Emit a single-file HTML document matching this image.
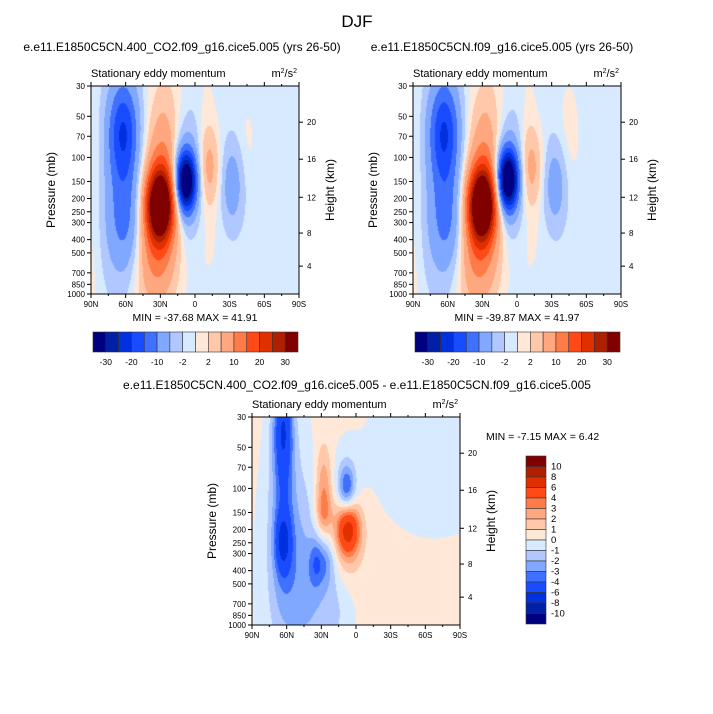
<!DOCTYPE html>
<html><head><meta charset="utf-8"><style>
body{margin:0;background:#fff;}
#wrap{position:relative;width:713px;height:714px;overflow:hidden;font-family:"Liberation Sans",sans-serif;}
canvas,svg{position:absolute;left:0;top:0;}
</style></head><body>
<div id="wrap">
<canvas id="cv" width="713" height="714"></canvas>
<svg id="sv" width="713" height="714" xmlns="http://www.w3.org/2000/svg"></svg>
</div>
<script>
// ---- data ----
const colors = ['#000080','#0020a8','#0030e0','#1a4cff','#4070ff','#80a8ff','#b0c8ff','#d8eaff','#ffe8d8','#ffc8aa','#ffa880','#ff7c48','#ff4a18','#e03000','#b02000','#800000'];
const levelsAbs = [-30,-25,-20,-15,-10,-5,-2,0,2,5,10,15,20,25,30];
const levelsDiff = [-10,-8,-6,-4,-3,-2,-1,0,1,2,3,4,6,8,10];
const absLabels = ['-30','-20','-10','-2','2','10','20','30'];
const latTicks = [90,60,30,0,-30,-60,-90];
const latLabels = ['90N','60N','30N','0','30S','60S','90S'];
const presTicks = [30,50,70,100,150,200,250,300,400,500,700,850,1000];
const heightTicks = [20,16,12,8,4];
const heightFrac = [0.174,0.352,0.535,0.707,0.866];
// blobs: [lat, pressure(mb), amplitude, sigmaLat, sigmaLnP]
const base1 = -0.9;
const blobs1 = [
 [62,65,-17,9,0.6],[60,300,-8,11,0.6],[64,160,-4,12,1.2],
 [30,220,38,8.5,0.42],[32,350,12,12,0.7],[27,100,8,10,0.6],[35,600,3,14,0.6],
 [8,150,-36,6,0.33],[8,140,-8,10,0.7],
 [-12,120,7,7,0.45],[-32,160,-7,7,0.5],
 [88,300,1.5,5,2],[25,40,2.5,12,0.8],[-10,60,1.5,6,0.8],[-10,400,1.2,10,0.7],[-45,80,1.3,6,0.6],[38,900,1.5,12,0.5]
];
const base2 = -0.9;
const blobs2 = [
 [63,65,-17,9,0.6],[60,300,-8,11,0.6],[64,160,-4,12,1.2],
 [30,220,38,8.5,0.42],[32,350,12,12,0.7],[27,100,8,10,0.6],[35,600,3,14,0.6],
 [8,145,-38,6,0.33],[8,140,-8,10,0.7],
 [-12,120,7,7,0.45],[-33,160,-7,7,0.5],
 [88,300,1.5,5,2],[25,40,2.5,12,0.8],[-10,60,1.5,6,0.8],[-10,400,1.2,10,0.7],[-45,70,1.8,7,0.7],[38,900,1.5,12,0.5]
];
const base3 = 0.3;
const blobs3 = [
 [63,35,-4.5,6,0.6],[63,250,-3.8,5,0.35],[63,120,-2.5,7,1.2],[64,250,-1.2,14,1.4],
 [28,110,3,5,0.55],[28,150,1.2,5,0.2],
 [8,100,-3.8,5,0.28],[8,100,-1.2,10,0.5],
 [7,200,5.5,7,0.3],[7,210,2,10,0.55],
 [27,340,-2.5,6,0.3],[35,350,-1.8,4,0.3],
 [-68,50,-1.3,35,0.9],[40,700,-1.4,22,0.8],[45,280,-1.3,10,1.2],[20,800,-0.8,10,0.5]
];
const panels = [
 {x0:91,y0:86,W:208,H:208,base:base1,blobs:blobs1,levels:levelsAbs,title:'e.e11.E1850C5CN.400_CO2.f09_g16.cice5.005 (yrs 26-50)',tx:182,ty:51,minmax:'MIN = -37.68  MAX =  41.91'},
 {x0:413,y0:86,W:208,H:208,base:base2,blobs:blobs2,levels:levelsAbs,title:'e.e11.E1850C5CN.f09_g16.cice5.005 (yrs 26-50)',tx:502,ty:51,minmax:'MIN = -39.87  MAX =  41.97'},
 {x0:252,y0:417,W:208,H:208,base:base3,blobs:blobs3,levels:levelsDiff,title:'e.e11.E1850C5CN.400_CO2.f09_g16.cice5.005 - e.e11.E1850C5CN.f09_g16.cice5.005',tx:357,ty:389,minmax:'MIN =  -7.15  MAX =  6.42'}
];
// ---- drawing ----
const LR = Math.log(1000/30);
function xOf(p,lat){return p.x0+(90-lat)/180*p.W;}
function yOf(p,pr){return p.y0+Math.log(pr/30)/LR*p.H;}
function field(p,lat,pr){let v=p.base;const z=Math.log(pr);for(const b of p.blobs){const a=(lat-b[0])/b[3],c=(z-Math.log(b[1]))/b[4];v+=b[2]*Math.exp(-0.5*(a*a+c*c));}return v;}
function lvl(levels,v){let i=0;while(i<levels.length&&v>=levels[i])i++;return i;}
const cv=document.getElementById('cv').getContext('2d');
const rgb=colors.map(c=>[parseInt(c.substr(1,2),16),parseInt(c.substr(3,2),16),parseInt(c.substr(5,2),16)]);
panels.forEach(p=>{
 const img=cv.createImageData(p.W,p.H);
 for(let j=0;j<p.H;j++){const pr=30*Math.exp((j+0.5)/p.H*LR);
  for(let i=0;i<p.W;i++){const lat=90-(i+0.5)/p.W*180;const c=rgb[lvl(p.levels,field(p,lat,pr))];const k=(j*p.W+i)*4;img.data[k]=c[0];img.data[k+1]=c[1];img.data[k+2]=c[2];img.data[k+3]=255;}}
 cv.putImageData(img,p.x0,p.y0);
});
const sv=document.getElementById('sv');const NS='http://www.w3.org/2000/svg';
function mk(tag,attrs,txt,name,par){const e=document.createElementNS(NS,tag);for(const k in attrs)e.setAttribute(k,attrs[k]);if(txt!=null)e.textContent=txt;
 
 
 (par||sv).appendChild(e);return e;}
function txt(x,y,s,size,anchor,name,extra){const a=Object.assign({x:x,y:y,'font-size':size,'text-anchor':anchor||'middle','font-family':'Liberation Sans, sans-serif',fill:'#000'},extra||{});return mk('text',a,s,name);}
txt(357,27,'DJF',17,'middle','main-title');
panels.forEach((p,pi)=>{
 txt(p.tx,p.ty,p.title,12,'middle','panel-title');
 txt(p.x0,p.y0-9,'Stationary eddy momentum',11,'start','subtitle');
 const u=txt(p.x0+p.W-2,p.y0-9,'m',11,'end','units-label');u.innerHTML='m<tspan dy="-4" font-size="7">2</tspan><tspan dy="4">/s</tspan><tspan dy="-4" font-size="7">2</tspan>';
 mk('rect',{x:p.x0,y:p.y0,width:p.W,height:p.H,fill:'none',stroke:'#000','stroke-width':1},null,'plot-frame');
 latTicks.forEach((l,i)=>{const x=xOf(p,l);mk('line',{x1:x,x2:x,y1:p.y0+p.H,y2:p.y0+p.H+4,stroke:'#000'},null,'x-tick');mk('line',{x1:x,x2:x,y1:p.y0,y2:p.y0-4,stroke:'#000'},null,'x-tick-top');
  txt(x,p.y0+p.H+13,latLabels[i],8,'middle','x-tick-label');});
 for(let l=75;l>-90;l-=15){if(l%30){const x=xOf(p,l);mk('line',{x1:x,x2:x,y1:p.y0,y2:p.y0-2,stroke:'#000'},null,'x-minor-tick');mk('line',{x1:x,x2:x,y1:p.y0+p.H,y2:p.y0+p.H+2,stroke:'#000'},null,'x-minor-tick');}}
 presTicks.forEach(pr=>{const y=yOf(p,pr);mk('line',{x1:p.x0-4,x2:p.x0,y1:y,y2:y,stroke:'#000'},null,'y-tick');txt(p.x0-6,y+3,String(pr),8,'end','y-tick-label');});
 heightTicks.forEach((h,i)=>{const y=p.y0+heightFrac[i]*p.H;mk('line',{x1:p.x0+p.W,x2:p.x0+p.W+4,y1:y,y2:y,stroke:'#000'},null,'height-tick');txt(p.x0+p.W+8,y+3,String(h),8,'start','height-tick-label');});
 const cy=p.y0+p.H/2;
 txt(p.x0-36,cy,'Pressure (mb)',12,'middle','y-axis-title',{transform:`rotate(-90 ${p.x0-36} ${cy})`});
 txt(p.x0+p.W+35,cy,'Height (km)',12,'middle','height-axis-title',{transform:`rotate(-90 ${p.x0+p.W+35} ${cy})`});
 if(pi<2){
  txt(p.x0+p.W/2,p.y0+p.H+27,p.minmax,10.5,'middle','min-max-label',{'xml:space':'preserve'});
  const bx=p.x0+2,bw=205/16,by=332;
  colors.forEach((c,i)=>mk('rect',{x:bx+i*bw,y:by,width:bw,height:20,fill:c,stroke:'#333','stroke-width':0.6},null,'colorbar-box'));
  absLabels.forEach((s,i)=>txt(bx+(2*i+1)*bw,by+33,s,8.5,'middle','colorbar-label'));
 } else {
  txt(486,440,p.minmax,10.5,'start','min-max-label',{'xml:space':'preserve'});
  const bx=526,by=456,bh=168/16;
  colors.slice().reverse().forEach((c,i)=>mk('rect',{x:bx,y:by+i*bh,width:20,height:bh,fill:c,stroke:'#333','stroke-width':0.6},null,'colorbar-box'));
  levelsDiff.slice().reverse().forEach((v,i)=>txt(551,by+(i+1)*bh+3,String(v),9.5,'start','colorbar-label'));
 }
});
</script>
</body></html>
